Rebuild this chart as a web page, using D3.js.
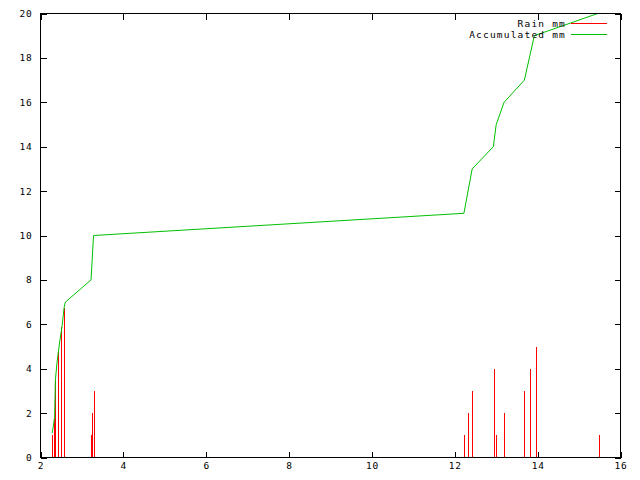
<!DOCTYPE html>
<html><head><meta charset="utf-8">
<script src="https://cdn.jsdelivr.net/npm/d3@7"></script>
<style>body{margin:0;background:#fff}</style>
</head><body><svg id="c" width="640" height="480"></svg>
<script>
// Rain mm (impulses)
const rainX  = [2.28, 2.33, 2.36, 2.42, 2.50, 2.57, 3.23, 3.25, 3.28, 12.23, 12.33, 12.42, 12.95, 13.00, 13.19, 13.68, 13.82, 13.95, 15.49];
const rainMm = [1.0, 1.8, 3.5, 4.75, 5.9, 6.75, 1.0, 2.0, 3.0, 1.0, 2.0, 3.0, 4.0, 1.0, 2.0, 3.0, 4.0, 5.0, 1.0];
// Accumulated mm (line)
const accX  = [2.28, 2.31, 2.34, 2.36, 2.40, 2.43, 2.47, 2.52, 2.57, 2.60, 3.22, 3.28, 12.22, 12.42, 12.93, 13.00, 13.19, 13.68, 13.92, 15.45];
const accMm = [1.1, 1.4, 1.8, 3.5, 4.3, 4.75, 5.3, 5.9, 6.75, 7.0, 8.0, 10.0, 11.0, 13.0, 14.0, 15.0, 16.0, 17.0, 19.0, 20.0];
const xTicks = [2, 4, 6, 8, 10, 12, 14, 16];
const yTicks = [0, 2, 4, 6, 8, 10, 12, 14, 16, 18, 20];
const seriesNames = ["Rain mm", "Accumulated mm"];
const seriesColors = ["#ff0000", "#00c000"];

const svg = d3.select("#c");
const L = 40.5, R = 620.5, T = 13.5, B = 457.5;
const x = d3.scaleLinear().domain([2, 16]).range([L, R]);
const y = d3.scaleLinear().domain([0, 20]).range([B, T]);
const font = "'DejaVu Sans Mono', 'Liberation Mono', monospace";

function styleAxis(g, labels) {
  g.select(".domain").remove();
  g.selectAll(".tick line").attr("stroke", "#000").attr("shape-rendering", "crispEdges");
  g.selectAll(".tick text").attr("fill", "#000").style("font-family", font)
    .style("font-size", "9.5px").style("letter-spacing", "0.8px");
  if (!labels) g.selectAll(".tick text").remove();
}

svg.append("g").attr("transform", `translate(${L},0)`)
  .call(d3.axisLeft(y).tickValues(yTicks).tickSize(-6).tickPadding(8).tickFormat(d3.format("d")))
  .call(g => styleAxis(g, true));
svg.append("g").attr("transform", `translate(${R},0)`)
  .call(d3.axisRight(y).tickValues(yTicks).tickSize(-6))
  .call(g => styleAxis(g, false));
svg.append("g").attr("transform", `translate(0,${B})`)
  .call(d3.axisBottom(x).tickValues(xTicks).tickSize(-6).tickPadding(5).tickFormat(d3.format("d")))
  .call(g => styleAxis(g, true));
svg.append("g").attr("transform", `translate(0,${T})`)
  .call(d3.axisTop(x).tickValues(xTicks).tickSize(-6))
  .call(g => styleAxis(g, false));

// impulses
svg.append("g").selectAll("line").data(rainX).join("line")
  .attr("x1", d => Math.round(x(d)) + 0.5).attr("x2", d => Math.round(x(d)) + 0.5)
  .attr("y1", y(0)).attr("y2", (d, i) => y(rainMm[i]))
  .attr("stroke", seriesColors[0]).attr("stroke-width", 1).attr("shape-rendering", "crispEdges");

// accumulated line
svg.append("path")
  .datum(accX.map((d, i) => [d, accMm[i]]))
  .attr("d", d3.line().x(d => x(d[0])).y(d => y(d[1])))
  .attr("fill", "none").attr("stroke", seriesColors[1]).attr("stroke-width", 1);

// border
svg.append("rect").attr("x", L).attr("y", T).attr("width", R - L).attr("height", B - T)
  .attr("fill", "none").attr("stroke", "#000").attr("shape-rendering", "crispEdges");

// legend
const lg = svg.append("g");
seriesNames.forEach((name, i) => {
  const yy = 23.5 + i * 11;
  lg.append("text").attr("x", 566).attr("y", yy).attr("dy", "0.35em")
    .attr("text-anchor", "end").style("font-family", font).style("font-size", "9.5px")
    .style("letter-spacing", "1.2px")
    .attr("fill", "#000").text(name);
  lg.append("line").attr("x1", 571).attr("x2", 607).attr("y1", yy).attr("y2", yy)
    .attr("stroke", seriesColors[i]).attr("shape-rendering", "crispEdges");
});
</script></body></html>
